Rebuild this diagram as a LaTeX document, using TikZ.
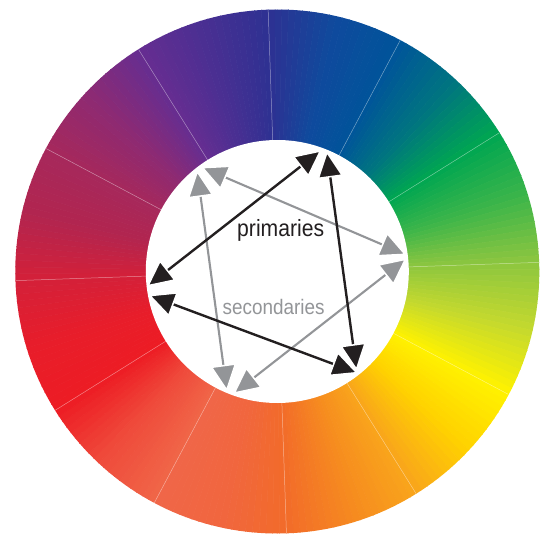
\documentclass[tikz,border=0pt]{standalone}
\usepackage{fontspec}
\newfontfamily\labelfont[FakeStretch=0.9]{Liberation Sans}
\usetikzlibrary{arrows.meta}
\definecolor{c0}{HTML}{2E3192}
\definecolor{c1}{HTML}{0F4A9D}
\definecolor{c2}{HTML}{00549A}
\definecolor{c3}{HTML}{007580}
\definecolor{c4}{HTML}{00A651}
\definecolor{c5}{HTML}{3CB54A}
\definecolor{c6}{HTML}{8DC63F}
\definecolor{c7}{HTML}{C4D92E}
\definecolor{c8}{HTML}{FFF200}
\definecolor{c9}{HTML}{FFD200}
\definecolor{c10}{HTML}{F9A51B}
\definecolor{c11}{HTML}{F68A1F}
\definecolor{c12}{HTML}{F26B2A}
\definecolor{c13}{HTML}{F1663F}
\definecolor{c14}{HTML}{F06648}
\definecolor{c15}{HTML}{EF4B3B}
\definecolor{c16}{HTML}{ED1C24}
\definecolor{c17}{HTML}{E81D2A}
\definecolor{c18}{HTML}{D42039}
\definecolor{c19}{HTML}{B2254F}
\definecolor{c20}{HTML}{A6285C}
\definecolor{c21}{HTML}{8E2A72}
\definecolor{c22}{HTML}{662D91}
\definecolor{c23}{HTML}{4A2F92}
\definecolor{c24}{HTML}{2E3192}
\definecolor{primcol}{HTML}{231F20}
\definecolor{seccol}{HTML}{939598}
\begin{document}
\begin{tikzpicture}[x=1pt,y=1pt,
  primarrow/.style={draw=primcol,line width=2.4pt,
    arrows={Triangle[length=27pt 0 0,width=26pt 0 0,fill=primcol,color=white,line width=1.5pt 0 0]-Triangle[length=27pt 0 0,width=26pt 0 0,fill=primcol,color=white,line width=1.5pt 0 0]}},
  secarrow/.style={draw=seccol,line width=2.1pt,
    arrows={Triangle[length=27pt 0 0,width=26pt 0 0,fill=seccol,color=white,line width=1.5pt 0 0]-Triangle[length=27pt 0 0,width=26pt 0 0,fill=seccol,color=white,line width=1.5pt 0 0]}},
  seamline/.style={white,opacity=0.45,line width=0.5pt}]
\useasboundingbox (-277.3,-264.5) rectangle (269.7,271.5);
\def\Rout{262}
\def\Rin{131.5}
% colour ring
\begin{scope}
\clip (0,0) circle[radius=\Rout];
\foreach \k in {0,...,239}{
  \pgfmathtruncatemacro\ci{int(\k/10)}
  \pgfmathtruncatemacro\cj{\ci+1}
  \pgfmathtruncatemacro\pp{mod(\k,10)*10+5}
  \pgfmathsetmacro\angA{92-1.5*\k}
  \pgfmathsetmacro\angB{90.5-1.5*\k}
  \filldraw[fill=c\cj!\pp!c\ci,draw=c\cj!\pp!c\ci,line width=0.5pt]
    (0,0) -- (\angA:300) arc[start angle=\angA,end angle=\angB,radius=300] -- cycle;
}
\end{scope}
\fill[white] (0,0) circle[radius=\Rin];
\foreach \t in {2,32,...,332}
  \draw[seamline] (\t:\Rin) -- (\t:\Rout);
% arrow end points
\coordinate (s1a) at (-76.3,104.5);
\coordinate (s1b) at (129.4,16.5);
\coordinate (s2a) at (-80.3,101.5);
\coordinate (s2b) at (-50.3,-120.2);
\coordinate (s3a) at (129.4,13.2);
\coordinate (s3b) at (-44.3,-122.5);
\coordinate (p1a) at (44.4,121.5);
\coordinate (p1b) at (-130.6,-15.2);
\coordinate (p2a) at (49.4,120.8);
\coordinate (p2b) at (79.4,-99.5);
\coordinate (p3a) at (-129,-23.5);
\coordinate (p3b) at (81,-101.8);
% secondaries
\draw[secarrow] (s1a) -- (s1b);
\draw[secarrow] (s2a) -- (s2b);
\draw[secarrow] (s3a) -- (s3b);
% primaries
\draw[primarrow] (p1a) -- (p1b);
\draw[primarrow] (p2a) -- (p2b);
\draw[primarrow] (p3a) -- (p3b);
% labels
\node[anchor=base,text=primcol,font=\labelfont\fontsize{23.5}{23.5}\selectfont] (primlabel) at (3.4,35.5) {primaries};
\node[anchor=base,text=seccol,font=\labelfont\fontsize{21}{21}\selectfont] (seclabel) at (-3.6,-42.5) {secondaries};
\end{tikzpicture}
\end{document}
